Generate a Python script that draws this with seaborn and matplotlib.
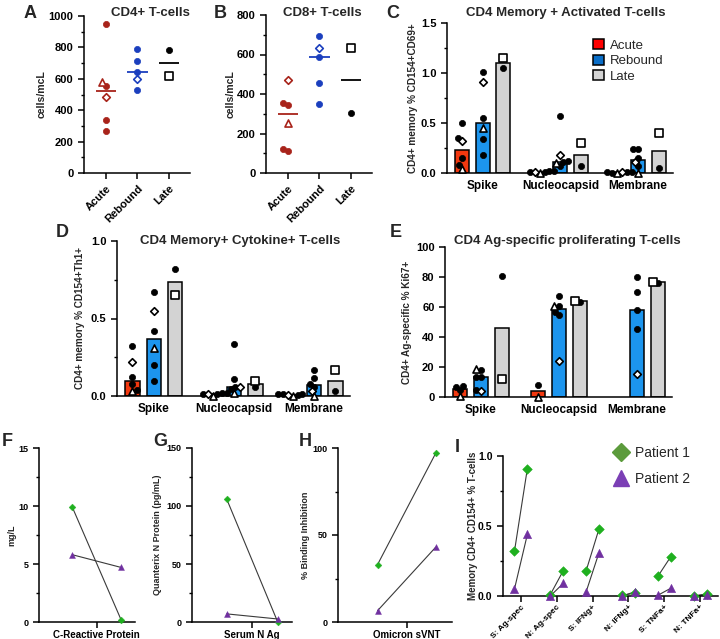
import numpy as np
import pandas as pd
import seaborn as sns
import matplotlib
matplotlib.use("Agg")
import matplotlib.pyplot as plt
from matplotlib.patches import Patch
from matplotlib.lines import Line2D
from matplotlib.ticker import MultipleLocator

nan = np.nan

times = ["Acute", "Rebound", "Late"]
antigens = ["Spike", "Nucleocapsid", "Membrane"]

# marker kind of each subject, same order as the value lists below
acute_kinds = ["diamond", "triangle", "dot", "dot", "dot", "dot"]
rebound_kinds = ["diamond", "triangle", "dot", "dot", "dot", "dot"]
count_rebound_kinds = ["diamond", "dot", "dot", "dot", "dot"]
late_kinds = ["square", "dot"]

# A: CD4+ T-cells (cells/mcL)
cd4_acute = [486, 579, 947, 554, 338, 270]
cd4_rebound = [596, 788, 716, 644, 526]
cd4_late = [617, 782]

# B: CD8+ T-cells (cells/mcL)
cd8_acute = [471, 253, 352, 344, 121, 111]
cd8_rebound = [631, 694, 586, 457, 348]
cd8_late = [634, 305]

# C: CD154+CD69+ (rows: Spike, Nucleocapsid, Membrane)
act_acute = [[0.32, 0.04, 0.50, 0.35, 0.15, 0.08],
             [0.01, 0.00, 0.02, 0.015, 0.01, 0.02],
             [0.01, 0.00, 0.01, 0.005, 0.015, 0.01]]
act_rebound = [[0.91, 0.45, 1.01, 0.55, 0.34, 0.18],
               [0.18, 0.10, 0.57, 0.12, 0.11, 0.07],
               [0.11, 0.00, 0.24, 0.24, 0.15, 0.07]]
act_late = [[1.15, 1.05], [0.30, 0.07], [0.40, 0.05]]

# D: CD154+Th1+
cyt_acute = [[0.22, 0.03, 0.32, 0.12, 0.08, 0.04],
             [0.01, 0.00, 0.02, 0.02, 0.01, 0.015],
             [0.005, 0.00, 0.01, 0.01, 0.005, 0.01]]
cyt_rebound = [[0.55, 0.31, 0.67, 0.42, 0.20, 0.10],
               [0.06, 0.02, 0.335, 0.11, 0.055, 0.045],
               [0.03, 0.00, 0.17, 0.115, 0.08, 0.06]]
cyt_late = [[0.65, 0.82], [0.10, 0.056], [0.17, 0.03]]

# E: Ki67+
ki_acute = [[nan, 1.0, 7.3, 6.8, 4.5, nan],
            [nan, 0.0, 8.2, nan, nan, nan],
            [nan, nan, nan, nan, nan, nan]]
ki_rebound = [[3.8, 18.5, 18.2, 13.3, 13.3, 4.5],
              [24.0, 61.0, 67.3, 60.9, 56.7, 55.0],
              [15.6, nan, 80.2, 70.0, 58.2, 45.1]]
ki_late = [[11.8, 80.4], [64.0, 63.5], [76.9, 76.0]]

# F-H: two visits for patient 1 and patient 2
crp_p1 = [9.9, 0.15]
crp_p2 = [5.8, 4.7]
nag_p1 = [106, 0.0]
nag_p2 = [7.0, 2.6]
svnt_p1 = [33, 97]
svnt_p2 = [6.5, 43]

# I: memory CD4+ CD154+ by stimulation, two visits
i_labels = ["S: Ag-spec", "N: Ag-spec", "S: IFNg+", "N: IFNg+", "S: TNFa+", "N: TNFa+"]
i_p1_first = [0.32, 0.01, 0.18, 0.005, 0.14, 0.0]
i_p1_second = [0.91, 0.18, 0.48, 0.02, 0.28, 0.015]
i_p2_first = [0.05, 0.0, 0.03, 0.0, 0.005, 0.0]
i_p2_second = [0.44, 0.09, 0.31, 0.03, 0.055, 0.01]

count_colors = {"Acute": "#A8231A", "Rebound": "#1B3FBE", "Late": "black"}
bar_colors = {"Acute": "#F2380F", "Rebound": "#1C95EE", "Late": "#D3D3D3"}
legend_colors = {"Acute": "#FF0000", "Rebound": "#0A6EC8", "Late": "#D3D3D3"}
green = "#1FB01F"
purple = "#7030A0"
markers = {"dot": "o", "diamond": "D", "triangle": "^", "square": "s"}
msize = {"dot": 20, "diamond": 15, "triangle": 26, "square": 26}

sns.set_theme(style="ticks")
plt.rcParams.update({
    "font.family": ["Liberation Sans", "DejaVu Sans"],
    "font.weight": "bold",
    "axes.labelweight": "bold",
    "axes.linewidth": 1.1,
    "axes.edgecolor": "black",
    "xtick.color": "black",
    "ytick.color": "black",
    "xtick.major.width": 1.1,
    "ytick.major.width": 1.1,
    "ytick.minor.width": 1.0,
    "xtick.major.size": 4,
    "ytick.major.size": 4,
    "ytick.minor.size": 2.5,
})

W, H = 720, 639
fig = plt.figure(figsize=(W / 100, H / 100), dpi=100)


def add_axes(l, t, r, b):
    ax = fig.add_axes([l / W, 1 - b / H, (r - l) / W, (b - t) / H])
    sns.despine(ax=ax)
    ax.px = (l, t, r, b)
    return ax


def fig_text(x, y, s, size, **kw):
    fig.text(x / W, 1 - y / H, s, fontsize=size, ha="center", va="center", fontweight="bold", **kw)


def ylabel(ax, text, cx, size):
    l, t, r, b = ax.px
    ax.set_ylabel(text, fontsize=size, va="center")
    ax.yaxis.set_label_coords((cx - l) / (r - l), 0.5)


def swarm(ax, base_x, values, d):
    pts = ax.transData.transform(np.column_stack([np.full(len(values), base_x, float), values]))
    cx = pts[0, 0]
    placed = []
    out = np.zeros(len(values))
    for i in np.argsort(pts[:, 1], kind="stable"):
        y = pts[i, 1]
        cands = [cx]
        for qx, qy in placed:
            dy = abs(y - qy)
            if dy < d:
                dx = np.sqrt(d * d - dy * dy)
                cands += [qx - dx, qx + dx]
        cands.sort(key=lambda c: abs(c - cx))
        for c in cands:
            if all((c - qx) ** 2 + (y - qy) ** 2 >= d * d - 1e-6 for qx, qy in placed):
                break
        out[i] = c
        placed.append((c, y))
    return ax.transData.inverted().transform(np.column_stack([out, pts[:, 1]]))[:, 0]


def draw_points(ax, df, colorfn):
    for (t, k), sub in df.groupby(["time", "kind"]):
        c = colorfn(t)
        if k == "dot":
            sns.scatterplot(x=sub["x"].values, y=sub["value"].values, marker="o", color=c,
                            edgecolor=c, linewidth=0.5, s=msize[k], ax=ax, legend=False,
                            zorder=3, clip_on=False)
        else:
            sns.scatterplot(x=sub["x"].values, y=sub["value"].values, marker=markers[k],
                            color="white", edgecolor=c, linewidth=1.2, s=msize[k], ax=ax,
                            legend=False, zorder=4, clip_on=False)


def count_panel(ax, acute, rebound, late, top, major, minor):
    rows = []
    for t, vals, kinds in zip(times, [acute, rebound, late],
                              [acute_kinds, count_rebound_kinds, late_kinds]):
        rows += [(t, v, k) for v, k in zip(vals, kinds)]
    df = pd.DataFrame(rows, columns=["time", "value", "kind"])
    ax.set_xlim(-0.7, 2.67)
    ax.set_ylim(0, top)
    med = df.groupby("time")["value"].median()
    for i, t in enumerate(times):
        ax.hlines(med[t], i - 0.32, i + 0.32, color=count_colors[t], lw=1.3, zorder=2)
    df["x"] = 0.0
    for t, sub in df.groupby("time"):
        df.loc[sub.index, "x"] = swarm(ax, times.index(t), sub["value"].values, 5.5)
    draw_points(ax, df, lambda t: count_colors[t])
    ax.set_xlim(-0.7, 2.67)
    ax.set_ylim(0, top)
    ax.set_xticks(range(3))
    ax.set_xticklabels(times, rotation=45, ha="right", va="top", rotation_mode="anchor", fontsize=8)
    ax.yaxis.set_major_locator(MultipleLocator(major))
    ax.yaxis.set_minor_locator(MultipleLocator(minor))
    ax.tick_params(axis="y", labelsize=8)
    ax.set_xlabel("")


def antigen_frame(acute, rebound, late):
    rows = []
    for t, table, kinds in zip(times, [acute, rebound, late], [acute_kinds, rebound_kinds, late_kinds]):
        for a, vals in zip(antigens, table):
            rows += [(a, t, v, k) for v, k in zip(vals, kinds)]
    return pd.DataFrame(rows, columns=["antigen", "time", "value", "kind"]).dropna()


def bar_panel(ax, df, top, major, minor=None):
    sns.barplot(data=df, x="antigen", y="value", hue="time", order=antigens, hue_order=times,
                estimator="median", errorbar=None, palette=bar_colors, saturation=1,
                width=0.8, gap=0.32, edgecolor="black", linewidth=1.1, legend=False, ax=ax, zorder=2)
    ax.set_xlim(-0.46, 2.45)
    ax.set_ylim(0, top)
    slot = 0.8 / 3
    df = df.copy()
    df["x"] = 0.0
    for (a, t), sub in df.groupby(["antigen", "time"]):
        base = antigens.index(a) + (times.index(t) - 1) * slot
        df.loc[sub.index, "x"] = swarm(ax, base, sub["value"].values, 5.0)
    draw_points(ax, df, lambda t: "black")
    ax.set_xlim(-0.46, 2.45)
    ax.set_ylim(0, top)
    ax.set_xticks(range(3))
    ax.set_xticklabels(antigens, fontsize=8.5)
    ax.tick_params(axis="x", length=0, pad=5)
    ax.tick_params(axis="y", labelsize=8)
    ax.yaxis.set_major_locator(MultipleLocator(major))
    if minor:
        ax.yaxis.set_minor_locator(MultipleLocator(minor))
    ax.set_xlabel("")


def pair_frame(p1, p2, xs):
    rows = []
    for name, vals in [("Patient 1", p1), ("Patient 2", p2)]:
        for i, (a, b) in enumerate(vals):
            rows.append((name, f"{name}-{i}", xs[i][0], a))
            rows.append((name, f"{name}-{i}", xs[i][1], b))
    return pd.DataFrame(rows, columns=["patient", "unit", "x", "value"])


def pair_draw(ax, df, s_d, s_t):
    sns.lineplot(data=df, x="x", y="value", units="unit", estimator=None, color="#3a3a3a",
                 lw=0.8, ax=ax, zorder=2, legend=False)
    sns.scatterplot(data=df[df.patient == "Patient 1"], x="x", y="value", marker="D", color=green,
                    edgecolor=green, s=s_d, ax=ax, legend=False, zorder=3, clip_on=False)
    sns.scatterplot(data=df[df.patient == "Patient 2"], x="x", y="value", marker="^", color=purple,
                    edgecolor=purple, s=s_t, ax=ax, legend=False, zorder=3, clip_on=False)
    ax.set_xlabel("")


def visit_panel(ax, p1, p2, top, major, minor, label):
    df = pair_frame([p1], [p2], [(0, 1)])
    pair_draw(ax, df, 12, 18)
    ax.set_xlim(-0.68, 1.28)
    ax.set_ylim(0, top)
    ax.set_xticks([0.5])
    ax.set_xticklabels([label], fontsize=7)
    ax.tick_params(axis="x", pad=1.5)
    ax.yaxis.set_major_locator(MultipleLocator(major))
    ax.yaxis.set_minor_locator(MultipleLocator(minor))
    ax.tick_params(axis="y", labelsize=6.5)


# ---- A, B
axA = add_axes(84, 16, 190, 173)
count_panel(axA, cd4_acute, cd4_rebound, cd4_late, 1000, 200, 100)
ylabel(axA, "cells/mcL", 42, 7.6)
axB = add_axes(266, 15, 372, 173)
count_panel(axB, cd8_acute, cd8_rebound, cd8_late, 800, 200, 100)
ylabel(axB, "cells/mcL", 231, 7.6)

# ---- C, D, E
axC = add_axes(447, 23, 673, 173)
bar_panel(axC, antigen_frame(act_acute, act_rebound, act_late), 1.5, 0.5, 0.25)
axC.yaxis.set_major_formatter("{x:.1f}")
ylabel(axC, "CD4+ memory % CD154+CD69+", 413, 7.2)
handles = [Patch(facecolor=legend_colors[t], edgecolor="black", linewidth=1.1) for t in times]
axC.legend(handles, times, loc="upper left", bbox_to_anchor=((593 - 447) / 226, (173 - 39) / 150),
           frameon=False, prop={"weight": "normal", "size": 9.5}, handlelength=0.8,
           handleheight=0.8, handletextpad=0.5, labelspacing=0.22, borderpad=0, borderaxespad=0)

axD = add_axes(117, 241, 350, 396)
bar_panel(axD, antigen_frame(cyt_acute, cyt_rebound, cyt_late), 1.0, 0.5, 0.25)
axD.yaxis.set_major_formatter("{x:.1f}")
ylabel(axD, "CD4+ memory % CD154+Th1+", 80, 7.2)

axE = add_axes(445, 247, 672, 397)
bar_panel(axE, antigen_frame(ki_acute, ki_rebound, ki_late), 100, 20)
ylabel(axE, "CD4+ Ag-specific % Ki67+", 407, 7.2)

# ---- F, G, H
axF = add_axes(39, 448, 135, 622)
visit_panel(axF, crp_p1, crp_p2, 15, 5, 2.5, "C-Reactive Protein")
ylabel(axF, "mg/L", 12, 6.5)
axG = add_axes(192, 448, 292, 622)
visit_panel(axG, nag_p1, nag_p2, 150, 50, 25, "Serum N Ag")
ylabel(axG, "Quanterix N Protein (pg/mL)", 157, 6.5)
axH = add_axes(338, 448, 452, 622)
visit_panel(axH, svnt_p1, svnt_p2, 100, 50, 25, "Omicron sVNT")
ylabel(axH, "% Binding Inhibition", 305, 6.5)

# ---- I
axI = add_axes(503, 456, 718, 596)
offs = [(i - 0.18, i + 0.18) for i in range(len(i_labels))]
dfI = pair_frame(list(zip(i_p1_first, i_p1_second)), list(zip(i_p2_first, i_p2_second)), offs)
pair_draw(axI, dfI, 24, 34)
axI.set_xlim(-0.5, 5.5)
axI.set_ylim(0, 1.0)
axI.set_xticks(range(len(i_labels)))
axI.set_xticklabels(i_labels, rotation=45, ha="right", va="top", rotation_mode="anchor", fontsize=6)
axI.tick_params(axis="x", pad=1.5)
axI.yaxis.set_major_locator(MultipleLocator(0.5))
axI.yaxis.set_minor_locator(MultipleLocator(0.25))
axI.yaxis.set_major_formatter("{x:.1f}")
axI.tick_params(axis="y", labelsize=7.5)
ylabel(axI, "Memory CD4+ CD154+ % T-cells", 473, 7)
ih = [Line2D([], [], marker="D", color="#5C9B3C", linestyle="none", markersize=9),
      Line2D([], [], marker="^", color="#7B3FB5", linestyle="none", markersize=11)]
axI.legend(ih, ["Patient 1", "Patient 2"], loc="upper left", bbox_to_anchor=((613 - 503) / 215, 1.07),
           frameon=False, prop={"weight": "normal", "size": 10}, handlelength=1.2,
           handletextpad=0.4, labelspacing=0.85, borderpad=0, borderaxespad=0)

# ---- titles and panel letters
fig_text(150, 13, "CD4+ T-cells", 9.5)
fig_text(322, 13, "CD8+ T-cells", 9.5)
fig_text(566, 13, "CD4 Memory + Activated T-cells", 9.5)
fig_text(240, 241, "CD4 Memory+ Cytokine+ T-cells", 9.5)
fig_text(567, 241, "CD4 Ag-specific proliferating T-cells", 9.5)
for s, x, y in [("A", 30, 13), ("B", 220, 13), ("C", 393, 13), ("D", 62, 233), ("E", 396, 233),
                ("F", 7, 441), ("G", 160, 441), ("H", 305, 441), ("I", 457, 447)]:
    fig_text(x, y, s, 13)

fig.savefig("out.png", dpi=100)
